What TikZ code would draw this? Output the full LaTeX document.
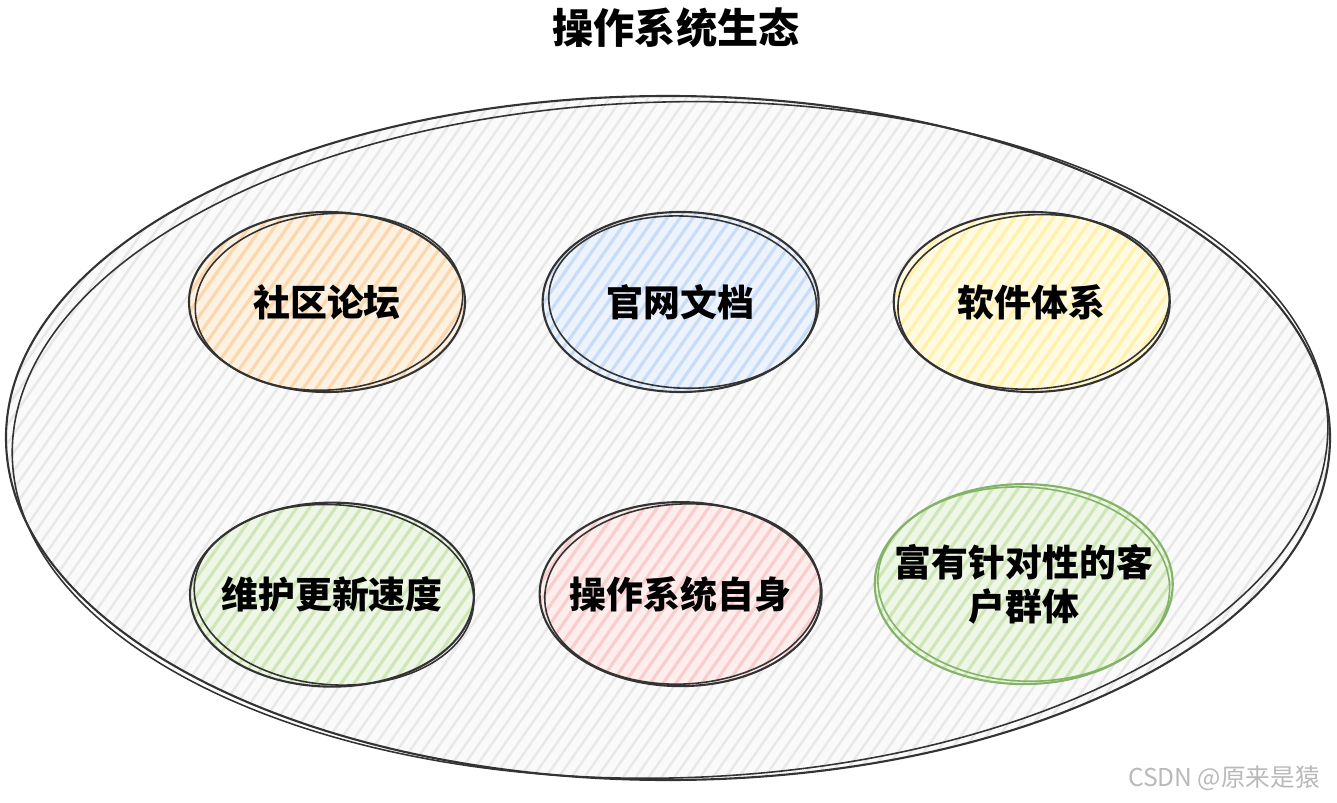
\documentclass[tikz,border=0pt]{standalone}
\usepackage{fontspec}
\newfontfamily\cjk{Noto Sans CJK SC}
\usetikzlibrary{shapes.geometric, positioning, patterns.meta}
\usepackage{xcolor}
\definecolor{peach}{HTML}{FAD7AC}
\definecolor{skyblue}{HTML}{C9DCF7}
\definecolor{lemon}{HTML}{FFF2A8}
\definecolor{mint}{HTML}{CFE6B8}
\definecolor{rose}{HTML}{F8CECC}
\definecolor{leaf}{HTML}{82B366}
\definecolor{ink}{HTML}{333333}

\begin{document}
\begin{tikzpicture}[node distance=0.75cm,
  bubble/.style={ellipse, draw=ink, line width=0.6pt, minimum width=2.76cm, minimum height=1.8cm,
    inner xsep=-0.3cm, inner ysep=0pt, align=center, font=\cjk\bfseries\fontsize{10.5}{12.5}\selectfont,
    preaction={fill=#1!35!white}, pattern={Lines[angle=55,distance=3pt,line width=0.9pt]}, pattern color=#1},
  bubble/.default=gray!20,
  sketchline/.style={draw=ink, line width=0.45pt}]
  \useasboundingbox (0,0) rectangle (13.37,-8.03);
  % outer ecosystem
  \draw[ink, line width=0.6pt, preaction={fill=gray!4}, pattern={Lines[angle=55,distance=3pt,line width=0.7pt]}, pattern color=gray!18]
    (6.68,-4.38) ellipse [x radius=6.62, y radius=3.42];
  \draw[sketchline, rotate around={1.5:(6.68,-4.38)}] (6.70,-4.40) ellipse [x radius=6.58, y radius=3.38];
  \node[font=\cjk\bfseries\fontsize{11.7}{14}\selectfont] (title) at (6.76,-0.28) {操作系统生态};
  % top row
  \node[bubble=peach] (forum) at (3.27,-3.02) {社区论坛};
  \node[bubble=skyblue, right=0.75cm of forum] (docs) {官网文档};
  \node[bubble=lemon, right=0.73cm of docs] (software) {软件体系};
  % bottom row
  \node[bubble=mint, minimum width=2.84cm, minimum height=1.84cm, below=1.08cm of forum, xshift=0.05cm] (update) {维护更新速度};
  \node[bubble=rose, minimum width=2.82cm, minimum height=1.84cm, below=1.08cm of docs] (itself) {操作系统自身};
  \node[bubble=mint, draw=leaf, minimum width=2.98cm, minimum height=2.0cm,
    below=0.9cm of software, xshift=-0.08cm] (users) {富有针对性的客\\户群体};
  % second pencil stroke
  \foreach \n/\a/\rx/\ry in {forum/5/1.34/0.88, docs/-3/1.34/0.86, software/4/1.36/0.87, update/-4/1.4/0.9, itself/3/1.38/0.9} {
    \draw[sketchline, rotate around={\a:(\n.center)}] ([xshift=0.02cm]\n.center) ellipse [x radius=\rx, y radius=\ry];
  }
  \draw[draw=leaf, line width=0.45pt, rotate around={-3:(users.center)}] (users.center) ellipse [x radius=1.46, y radius=0.97];
  \node[font=\cjk\fontsize{7}{8}\selectfont, text=gray!55, anchor=east] (mark) at (13.32,-7.78) {CSDN @原来是猿};
\end{tikzpicture}
\end{document}
